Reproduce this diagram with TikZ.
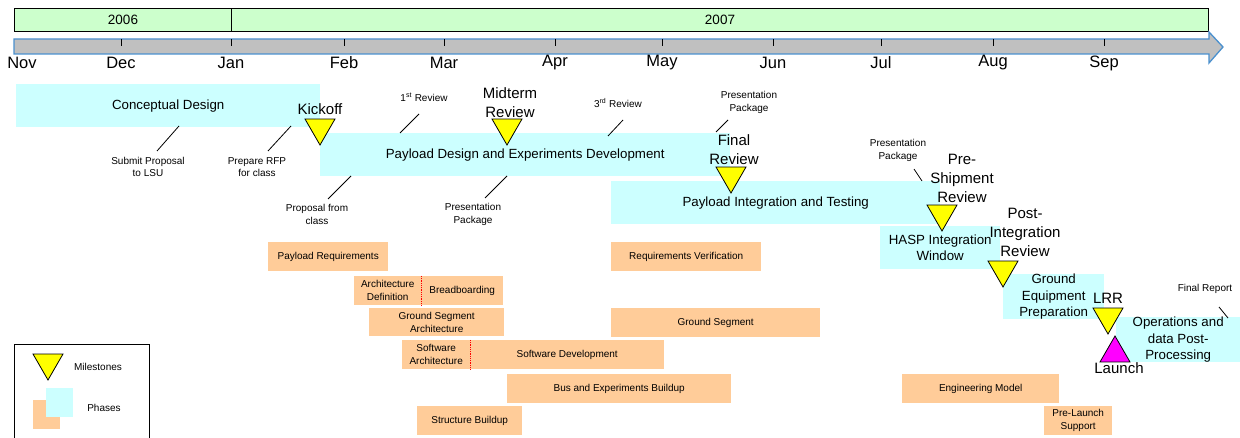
\documentclass[tikz,border=0pt]{standalone}
\usepackage{fontspec}
\setmainfont{Liberation Sans}
\usetikzlibrary{shapes.geometric}

\definecolor{phasecyan}{RGB}{204,255,255}
\definecolor{taskorange}{RGB}{255,204,153}
\definecolor{yeargreen}{RGB}{204,255,204}
\definecolor{axisgray}{RGB}{192,192,192}
\definecolor{axisblue}{RGB}{74,144,206}
\definecolor{msyellow}{RGB}{255,255,0}
\definecolor{launchpink}{RGB}{255,0,255}

\begin{document}
\begin{tikzpicture}[x=1pt,y=-1pt,
  yearbox/.style={draw,fill=yeargreen,line width=1pt,anchor=north west,inner sep=0pt,minimum height=23pt,font=\fontsize{13.5}{16}\selectfont},
  month/.style={inner sep=0pt,font=\fontsize{16.5}{19}\selectfont},
  tick/.style={line width=1pt},
  phase/.style={fill=phasecyan,anchor=north west,inner sep=0pt,align=center,font=\fontsize{13.3}{16.3}\selectfont},
  task/.style={fill=taskorange,anchor=north west,inner sep=0pt,align=center,font=\fontsize{10}{13}\selectfont},
  milestone/.style={regular polygon,regular polygon sides=3,shape border rotate=180,draw,line width=0.8pt,fill=msyellow,inner sep=0pt,minimum size=34.6pt},
  mslabel/.style={align=center,inner sep=0pt,font=\fontsize{15}{19}\selectfont},
  note/.style={align=center,inner sep=0pt,font=\fontsize{10}{12.5}\selectfont},
  leader/.style={line width=0.8pt},
  split/.style={red,densely dotted,line width=0.8pt}]
  \useasboundingbox (0,0) rectangle (1240,438);

  % years and time axis
  \node[yearbox,minimum width=217pt] (y2006) at (14,8) {2006};
  \node[yearbox,minimum width=977pt] (y2007) at (231,8) {2007};
  \draw[fill=axisgray,draw=axisblue,line width=1.3pt,line join=miter]
    (14,39) -- (1209,39) -- (1209,32) -- (1223,47) -- (1209,63) -- (1209,54) -- (14,54) -- cycle;
  \draw[tick] (121,39) -- (121,46);
  \draw[tick] (231,39) -- (231,46);
  \draw[tick] (344,39) -- (344,46);
  \draw[tick] (444,39) -- (444,46);
  \draw[tick] (555,39) -- (555,46);
  \draw[tick] (662,39) -- (662,46);
  \draw[tick] (773,39) -- (773,46);
  \draw[tick] (881,39) -- (881,46);
  \draw[tick] (993,39) -- (993,46);
  \draw[tick] (1104,39) -- (1104,46);
  \node[month] (m-nov) at (22,63) {Nov};
  \node[month] (m-dec) at (121,63) {Dec};
  \node[month] (m-jan) at (231,63) {Jan};
  \node[month] (m-feb) at (344,63) {Feb};
  \node[month] (m-mar) at (444,63) {Mar};
  \node[month] (m-apr) at (555,63) {Apr};
  \node[month] (m-may) at (662,63) {May};
  \node[month] (m-jun) at (773,63) {Jun};
  \node[month] (m-jul) at (881,63) {Jul};
  \node[month] (m-aug) at (993,63) {Aug};
  \node[month] (m-sep) at (1104,63) {Sep};

  % phases
  \node[phase,minimum width=304pt,minimum height=43pt] (concept) at (16,84) {Conceptual Design};
  \node[phase,minimum width=410pt,minimum height=43pt] (design) at (320,133) {Payload Design and Experiments Development};
  \node[phase,minimum width=329pt,minimum height=43pt] (integ) at (611,181) {Payload Integration and Testing};
  \node[phase,minimum width=120pt,minimum height=43pt] (hasp) at (880,226) {HASP Integration\\Window};
  \node[phase,minimum width=101pt,minimum height=44pt] (gndeq) at (1003,274) {Ground\\Equipment\\Preparation};
  \node[phase,minimum width=124pt,minimum height=44pt] (ops) at (1116,317) {Operations and\\data Post-\\Processing};

  % tasks
  \node[task,minimum width=120pt,minimum height=29pt] (payreq) at (268,242) {Payload Requirements};
  \node[task,minimum width=67pt,minimum height=29pt] (archdef) at (354,276) {Architecture\\Definition};
  \node[task,minimum width=82pt,minimum height=29pt] (bread) at (421,276) {Breadboarding};
  \node[task,minimum width=135pt,minimum height=28pt] (gsarch) at (369,308) {Ground Segment\\Architecture};
  \node[task,minimum width=68pt,minimum height=29pt] (swarch) at (402,340) {Software\\Architecture};
  \node[task,minimum width=194pt,minimum height=29pt] (swdev) at (470,340) {Software Development};
  \node[task,minimum width=224pt,minimum height=29pt] (busexp) at (507,374) {Bus and Experiments Buildup};
  \node[task,minimum width=105pt,minimum height=29pt] (struct) at (417,406) {Structure Buildup};
  \node[task,minimum width=150pt,minimum height=29pt] (reqver) at (611,242) {Requirements Verification};
  \node[task,minimum width=209pt,minimum height=29pt] (gseg) at (611,308) {Ground Segment};
  \node[task,minimum width=157pt,minimum height=29pt] (engmod) at (902,374) {Engineering Model};
  \node[task,minimum width=68pt,minimum height=29pt] (prelaunch) at (1044,406) {Pre-Launch\\Support};
  \draw[split] (archdef.north east) -- (archdef.south east);
  \draw[split] (swarch.north east) -- (swarch.south east);

  % milestones
  \node[milestone] (kickoff) at (320,127.7) {};
  \node[milestone] (midterm) at (507,127.7) {};
  \node[milestone] (final) at (731,175.7) {};
  \node[milestone] (preship) at (942,213.7) {};
  \node[milestone] (postint) at (1003,269.7) {};
  \node[milestone] (lrr) at (1108,316.7) {};
  \node[milestone,fill=launchpink,shape border rotate=0] (launch) at (1115,353.3) {};
  \node[mslabel] (kickoff-lbl) at (320,109) {Kickoff};
  \node[mslabel] (midterm-lbl) at (510,102.5) {Midterm\\Review};
  \node[mslabel] (final-lbl) at (734,149.5) {Final\\Review};
  \node[mslabel] (preship-lbl) at (962,178) {Pre-\\Shipment\\Review};
  \node[mslabel] (postint-lbl) at (1025,232) {Post-\\Integration\\Review};
  \node[mslabel] (lrr-lbl) at (1108,298) {LRR};
  \node[mslabel] (launch-lbl) at (1119,368) {Launch};

  % notes with leader lines
  \node[note] (submit) at (148,167) {Submit Proposal\\to LSU};
  \node[note] (rfp) at (257,167) {Prepare RFP\\for class};
  \node[note] (propclass) at (317,214.5) {Proposal from\\class};
  \node[note] (rev1) at (424,97) {1\textsuperscript{st} Review};
  \node[note] (midpkg) at (473,214.5) {Presentation\\Package};
  \node[note] (rev3) at (618,103) {3\textsuperscript{rd} Review};
  \node[note] (finpkg) at (749,102.5) {Presentation\\Package};
  \node[note] (shippkg) at (898,150.5) {Presentation\\Package};
  \node[note] (report) at (1205,289) {Final Report};
  \coordinate (submit-a) at (157,151);  \coordinate (submit-b) at (179,126);
  \coordinate (rfp-a) at (268,151);     \coordinate (rfp-b) at (291,126);
  \coordinate (propclass-a) at (328,199); \coordinate (propclass-b) at (351,176);
  \coordinate (rev1-a) at (400,133);    \coordinate (rev1-b) at (419,114);
  \coordinate (midpkg-a) at (485,198);  \coordinate (midpkg-b) at (507,176);
  \coordinate (rev3-a) at (608,136);    \coordinate (rev3-b) at (623,120);
  \coordinate (finpkg-a) at (716,132);  \coordinate (finpkg-b) at (728,120);
  \coordinate (shippkg-a) at (914,169); \coordinate (shippkg-b) at (922,181);
  \coordinate (report-a) at (1219,307); \coordinate (report-b) at (1228,318);
  \draw[leader] (submit-a) -- (submit-b);
  \draw[leader] (rfp-a) -- (rfp-b);
  \draw[leader] (propclass-a) -- (propclass-b);
  \draw[leader] (rev1-a) -- (rev1-b);
  \draw[leader] (midpkg-a) -- (midpkg-b);
  \draw[leader] (rev3-a) -- (rev3-b);
  \draw[leader] (finpkg-a) -- (finpkg-b);
  \draw[leader] (shippkg-a) -- (shippkg-b);
  \draw[leader] (report-a) -- (report-b);

  % legend
  \node[draw,line width=1.2pt,anchor=north west,inner sep=0pt,minimum width=135pt,minimum height=100pt] (legend) at (14,344) {};
  \node[milestone] (legend-ms) at (48,362.7) {};
  \node[task,minimum width=27pt,minimum height=29pt] (legend-task) at (33,400) {};
  \node[phase,minimum width=27pt,minimum height=29pt] (legend-phase) at (46,388) {};
  \node[note] (legend-ms-lbl) at (98,367) {Milestones};
  \node[note] (legend-ph-lbl) at (104,408) {Phases};
\end{tikzpicture}
\end{document}
